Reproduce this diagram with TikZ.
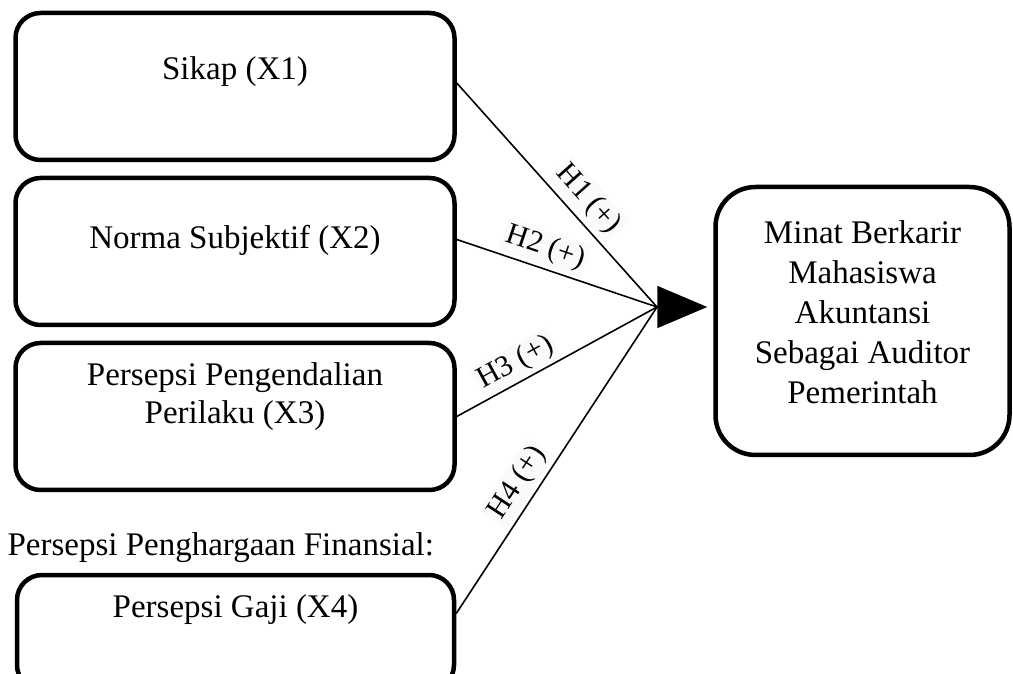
\documentclass[tikz,border=0pt]{standalone}
\usepackage{fontspec}
\setmainfont{Liberation Serif}
\usetikzlibrary{arrows.meta,positioning,calc}

\begin{document}
\begin{tikzpicture}[x=1pt, y=1pt,
    % --- Box styles ---
    var/.style={draw, line width=4.5pt, rounded corners=25pt,
                minimum width=439pt, minimum height=147pt},
    dep/.style={var, rounded corners=40pt, minimum width=294pt,
                minimum height=268pt},
    txt/.style={align=center, font=\fontsize{33}{38}\selectfont},
    hyp/.style={sloped, above=3pt, inner sep=3pt, fill=black!2,
                font=\fontsize{30}{34}\selectfont},
    % --- Arrow style ---
    link/.style={line width=1.6pt},
    big/.style={-{Triangle[length=50pt, width=42pt]}, line width=1.6pt,
                shorten >=6pt},
]
\useasboundingbox (0,0) rectangle (1013,673);

% === The independent variables as boxes ===
\node[var]                           (sikap)    at (235,586.5) {};
\node[var, below=13.5pt of sikap]    (norma)    {};
\node[var, below=13.5pt of norma]    (persepsi) {};
\node[var, minimum width=437pt, minimum height=115pt] (gaji) at (235.5,40.5) {};

% === Texts inside the boxes ===
\node[txt] (sikapText)    at ([yshift=14.5pt]sikap.center)  {Sikap (X1)};
\node[txt] (normaText)    at ([yshift=11.5pt]norma.center)  {Norma Subjektif (X2)};
\node[txt] (persepsiText) at ([yshift=20pt]persepsi.center) {Persepsi Pengendalian\\Perilaku (X3)};
\node[txt] (gajiText)     at ([yshift=22.5pt]gaji.center)   {Persepsi Gaji (X4)};
\node[txt, anchor=west] (finansial) at (4,125) {Persepsi Penghargaan Finansial:};

% === The dependent variable on the right ===
\node[dep] (minat) at (862.5,352) {};
\node[txt, font=\fontsize{33}{40}\selectfont] (minatText) at ([yshift=8.5pt]minat.center)
  {Minat Berkarir\\Mahasiswa\\Akuntansi\\Sebagai Auditor\\Pemerintah};

% === Hypotheses meet in one point ===
\coordinate (meet) at (657,366);
\draw[link] ([yshift=3.5pt]sikap.east) -- node[hyp, pos=0.58] {H1 (+)} (meet);
\draw[link] ([yshift=12pt]norma.east)  -- node[hyp, pos=0.41] {H2 (+)} (meet);
\draw[link] (persepsi.east)            -- node[hyp, pos=0.34, above=1.5pt] {H3 (+)} (meet);
\draw[link] ([yshift=19pt]gaji.east)   -- node[hyp, pos=0.39] {H4 (+)} (meet);
\draw[big] (meet) -- (meet -| minat.west);

\end{tikzpicture}
\end{document}
